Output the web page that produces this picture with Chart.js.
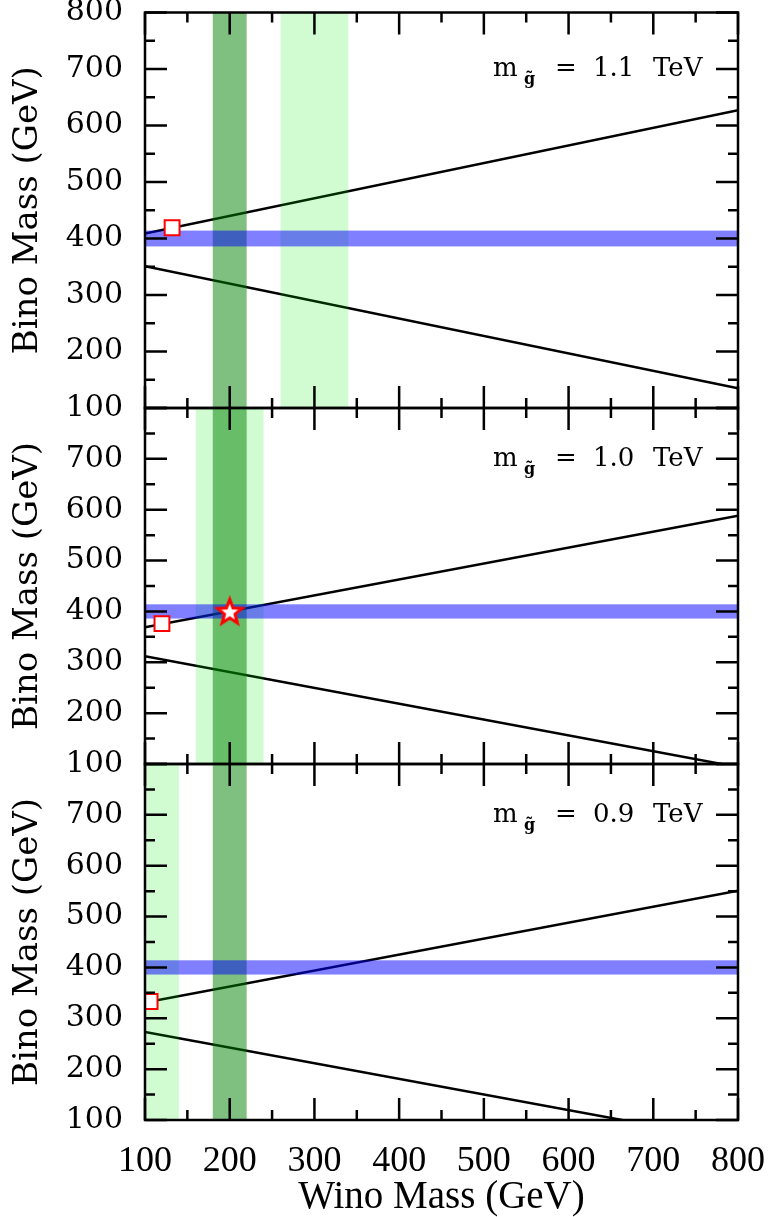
<!DOCTYPE html>
<html lang="en">
<head>
<meta charset="UTF-8">
<title>Bino vs Wino mass</title>
<script src="https://cdn.jsdelivr.net/npm/chart.js"></script>
<style>
  body { margin: 0; background: #fff; }
  #wrap { position: relative; width: 772px; height: 1217px; }
  #wrap canvas { position: absolute; left: 0; top: 0; }
</style>
</head>
<body>
<div id="wrap">
  <canvas id="p1" width="772" height="1217"></canvas>
  <canvas id="p2" width="772" height="1217"></canvas>
  <canvas id="p3" width="772" height="1217"></canvas>
</div>
<script>
// values, all in GeV
const winoEnds = [100, 800];
const gluinoMass = ["1.1", "1.0", "0.9"];
const upperLine = [[409, 627], [369, 588], [331, 551]];
const lowerLine = [[351, 135], [312, 94], [273, 58]];
const blueBand = [386, 414];
const darkBand = [180, 220];
const lightBand = [[260, 340], [160, 240], [100, 140]];
const squareWino = [132, 120, 106];
const squareBino = [419, 376, 333];
const starPoint = [200, 400]; // middle panel only
const xTicks = [100, 200, 300, 400, 500, 600, 700, 800];
const xMinor = [150, 250, 350, 450, 550, 650, 750];
const yTicksTop = [100, 200, 300, 400, 500, 600, 700, 800];
const yTicks = [100, 200, 300, 400, 500, 600, 700];
const yMinor = [150, 250, 350, 450, 550, 650, 750];

// panel placement on the page
const panelTop = [12, 408, 764];
const panelBottom = [408, 764, 1120];

function makeStar() {
    const c = document.createElement("canvas");
    c.width = c.height = 32;
    const g = c.getContext("2d");
    g.beginPath();
    for (let k = 0; k < 10; k++) {
        const r = k % 2 ? 5.5 : 13;
        const a = -Math.PI / 2 + k * Math.PI / 5;
        g.lineTo(16 + r * Math.cos(a), 17 + r * Math.sin(a));
    }
    g.closePath();
    g.fillStyle = "#fff";
    g.fill();
    g.lineJoin = "miter";
    g.lineWidth = 3;
    g.strokeStyle = "red";
    g.stroke();
    return c;
}
const starImg = makeStar();

const panelPlugin = {
    id: "panel",
    beforeDraw(chart) { chart.$bands = false; },
    // bands go over the lines but under the markers
    beforeDatasetDraw(chart, args) {
        if (!chart.data.datasets[args.index].isMarker || chart.$bands) return;
        chart.$bands = true;
        const i = chart.options.plugins.panel.idx;
        const { ctx, chartArea: a, scales: { x, y } } = chart;
        ctx.save();
        ctx.beginPath();
        ctx.rect(a.left, a.top, a.right - a.left, a.bottom - a.top);
        ctx.clip();
        const vband = (b, col) => {
            const x0 = x.getPixelForValue(b[0]), x1 = x.getPixelForValue(b[1]);
            ctx.fillStyle = col;
            ctx.fillRect(x0, a.top, x1 - x0, a.bottom - a.top);
        };
        vband(lightBand[i], "rgba(0,240,0,0.18)");
        vband(darkBand, "rgba(0,128,0,0.5)");
        const y0 = y.getPixelForValue(blueBand[1]), y1 = y.getPixelForValue(blueBand[0]);
        ctx.fillStyle = "rgba(0,0,255,0.5)";
        ctx.fillRect(a.left, y0, a.right - a.left, y1 - y0);
        ctx.restore();
    },
    afterDraw(chart) {
        const i = chart.options.plugins.panel.idx;
        const { ctx, chartArea: a, scales: { x, y } } = chart;
        ctx.save();
        ctx.strokeStyle = "#000";
        ctx.lineWidth = 2.5;
        ctx.beginPath();
        const xt = (v, len) => {
            const px = x.getPixelForValue(v);
            ctx.moveTo(px, a.bottom); ctx.lineTo(px, a.bottom - len);
            ctx.moveTo(px, a.top); ctx.lineTo(px, a.top + len);
        };
        const yt = (v, len) => {
            const py = y.getPixelForValue(v);
            ctx.moveTo(a.left, py); ctx.lineTo(a.left + len, py);
            ctx.moveTo(a.right, py); ctx.lineTo(a.right - len, py);
        };
        xTicks.forEach(v => xt(v, 22));
        xMinor.forEach(v => xt(v, 10));
        yTicksTop.forEach(v => yt(v, 22));
        yMinor.forEach(v => yt(v, 10));
        ctx.stroke();
        ctx.strokeRect(a.left, a.top, a.right - a.left, a.bottom - a.top);

        // m_gluino label, pieces placed from the right frame edge
        const base = y.getPixelForValue(700) + 7;
        const r = a.right;
        ctx.fillStyle = "#000";
        ctx.textBaseline = "alphabetic";
        ctx.font = '26px "DejaVu Serif"';
        ctx.fillText("m", r - 245, base);
        ctx.fillText("=", r - 183, base);
        ctx.fillText(gluinoMass[i], r - 145, base);
        ctx.fillText("TeV", r - 85, base);
        ctx.font = 'bold 16px "DejaVu Serif"';
        ctx.fillText("g\u0303", r - 214, base + 8);
        ctx.restore();
    }
};

function makePanel(i) {
    const last = i === 2;
    const marks = [{ x: squareWino[i], y: squareBino[i] }];
    const styles = ["rect"];
    if (i === 1) {
        marks.push({ x: starPoint[0], y: starPoint[1] });
        styles.push(starImg);
    }
    const lineSet = vals => ({
        data: winoEnds.map((w, k) => ({ x: w, y: vals[k] })),
        borderColor: "#000", borderWidth: 2.5, pointRadius: 0, order: 3
    });
    const hiddenGrid = len => ({
        display: true, drawOnChartArea: false, drawTicks: true, tickLength: len,
        color: "rgba(0,0,0,0)", tickColor: "rgba(0,0,0,0)"
    });
    return new Chart(document.getElementById("p" + (i + 1)), {
        type: "line",
        data: {
            datasets: [
                lineSet(upperLine[i]),
                lineSet(lowerLine[i]),
                {
                    isMarker: true, data: marks, showLine: false, order: 1,
                    pointStyle: styles, pointRadius: 10.5,
                    pointBackgroundColor: "#fff", pointBorderColor: "red", pointBorderWidth: 2
                }
            ]
        },
        options: {
            responsive: false,
            animation: false,
            layout: { padding: { top: panelTop[i], bottom: last ? 0 : 1217 - panelBottom[i], left: 0, right: 34 } },
            plugins: { legend: { display: false }, tooltip: { enabled: false }, panel: { idx: i } },
            scales: {
                x: {
                    type: "linear", min: 100, max: 800, display: last,
                    grid: hiddenGrid(24), border: { display: false },
                    afterBuildTicks: ax => { ax.ticks = xTicks.map(v => ({ value: v })); },
                    afterFit: ax => { if (last) ax.height = 1217 - 1120; },
                    ticks: { padding: 0, color: "#000", font: { family: "Liberation Serif", size: 36, lineHeight: 1 } },
                    title: {
                        display: true, text: "Wino Mass (GeV)", color: "#000",
                        font: { family: "Liberation Serif", size: 39, lineHeight: 1 }, padding: { top: 2.5, bottom: 0 }
                    }
                },
                y: {
                    type: "linear", min: 100, max: 800,
                    grid: hiddenGrid(22), border: { display: false },
                    afterBuildTicks: ax => { ax.ticks = (i === 0 ? yTicksTop : yTicks).map(v => ({ value: v })); },
                    afterFit: ax => { ax.width = 145; },
                    ticks: { padding: 0, color: "#000", font: { family: "DejaVu Serif", size: 30, lineHeight: 0.7 } },
                    title: {
                        display: true, text: "Bino Mass (GeV)", color: "#000",
                        font: { family: "DejaVu Serif", size: 34, lineHeight: 1 }, padding: { top: 11, bottom: 0 }
                    }
                }
            }
        },
        plugins: [panelPlugin]
    });
}

[0, 1, 2].forEach(makePanel);
</script>
</body>
</html>
